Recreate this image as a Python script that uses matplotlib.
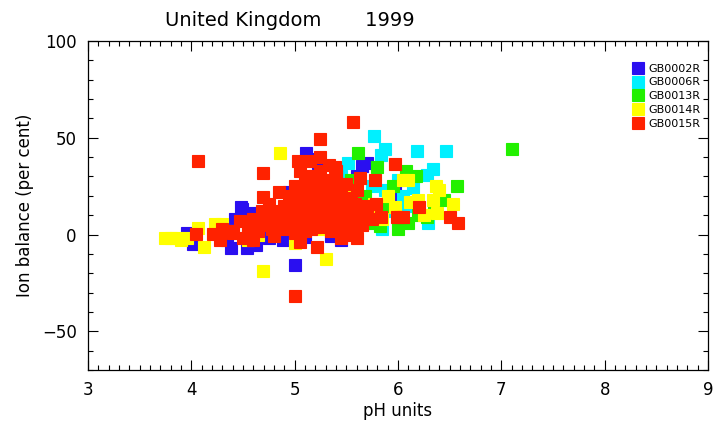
import numpy as np
import matplotlib.pyplot as plt
from matplotlib.ticker import MultipleLocator

# %% data (pH, ion balance %)
sites = ['GB0002R', 'GB0006R', 'GB0013R', 'GB0014R', 'GB0015R']
colors = ['#2a0ff0', '#00f0ff', '#22f000', '#ffff00', '#ff2200']

ph_0002 = [3.96, 4.02, 4.38, 4.54, 4.63, 4.42, 4.49, 4.89, 5.0, 5.1, 5.11, 5.22, 5.23,
           5.7, 5.65, 5.97, 5.96, 4.7, 4.85, 4.95, 5.05, 5.15, 5.3, 5.4, 5.5, 5.6, 5.8,
           5.9, 4.25, 4.55, 4.75, 5.35, 5.45, 4.6, 4.35, 4.48]
ib_0002 = [1, -4.7, -6.8, -6.8, -5.2, 8, 13.4, -3, -15.5, -1.5, 42, 39, 37,
           37, 35.6, 23, 20, 5, 10, 22, 15, 28, 8, 3, 20, 30, 12,
           18, 2, 0, -2, -1, -3, 11, -3, 14]

ph_0006 = [5.77, 5.87, 5.84, 6.18, 6.46, 5.52, 6.34, 6.28, 6.15, 5.87, 6.29, 5.6, 5.45,
           5.75, 5.95, 6.05, 5.3, 5.5, 5.65, 6.1, 5.2, 5.4, 5.85, 6.0, 5.55]
ib_0006 = [51, 44, 41, 43, 43, 37, 34, 31, 24, 23, 6, 18, 30,
           25, 12, 20, 5, 2, 8, 15, 12, 20, 3, 28, 12]

ph_0013 = [7.1, 5.61, 5.8, 6.08, 6.17, 6.57, 6.45, 6.28, 6.0, 6.19, 5.83, 5.61, 5.68,
           5.75, 5.9, 5.5, 5.3, 5.2, 5.7, 6.35, 5.4, 5.95, 5.55, 6.1, 5.1]
ib_0013 = [44, 42, 35, 33, 30, 25, 18, 9, 3, 10, 4.6, 17.6, 20,
           6, 14, 10, 22, 15, 12, 12, 4, 25, 28, 6, 8]

ph_0014 = [3.75, 3.8, 3.85, 3.9, 3.96, 4.06, 4.12, 4.23, 4.3, 4.55, 4.69, 4.86, 5.0,
           5.3, 5.77, 5.73, 6.05, 6.1, 6.37, 6.4, 6.53, 6.34, 6.38, 6.12, 5.97, 6.19,
           4.4, 4.8, 5.05, 5.45, 5.6, 5.85, 5.9, 5.25, 4.65, 6.25, 5.5, 4.95]
ib_0014 = [-2, -2, -2, -3, -2, 3.6, -6.5, 5.7, 5.7, -3, -19, 42, -4.6,
           -12.5, 16, 14, 28, 28, 25, 23, 16, 18, 11, 17, 14, 18,
           2, 8, 20, 12, 5, 8, 20, 3, 0, 10, 25, 6]

ph_0015 = [4.06, 4.69, 4.69, 5.0, 5.56, 5.25, 5.03, 5.39, 5.05, 5.97, 5.63, 5.78, 5.79,
           5.84, 6.02, 5.58, 5.22, 4.05, 4.28, 4.21, 4.37, 4.47, 6.2, 6.05, 5.99, 6.5,
           6.58, 4.55, 4.6, 4.65, 4.7, 4.75, 4.8, 4.8, 4.85, 4.9, 4.9, 4.95, 4.95, 5.0,
           5.0, 5.0, 5.05, 5.05, 5.1, 5.1, 5.1, 5.15, 5.15, 5.2, 5.2, 5.2, 5.25, 5.25,
           5.3, 5.3, 5.3, 5.35, 5.35, 5.35, 5.4, 5.4, 5.4, 5.45, 5.45, 5.5, 5.5, 5.5,
           5.55, 5.55, 5.6, 5.6, 5.65, 5.7, 5.75, 5.15, 5.25, 5.33, 4.5, 4.4, 4.3, 4.6,
           4.85, 5.45, 5.6, 5.05, 4.75, 5.28, 5.18, 4.98,
           4.62, 4.72, 4.82, 4.92, 5.02, 5.12, 5.22, 5.32, 5.42, 5.52, 5.62, 4.88,
           4.98, 5.08, 5.18, 5.28, 5.38, 5.48, 5.12, 5.22, 5.32, 5.42, 5.02, 5.12,
           5.2, 5.3, 5.4, 4.78, 4.68, 5.58, 5.68, 5.08, 5.16, 5.26, 5.36, 5.46]
ib_0015 = [38, 31.6, 19.6, -32, 58, 49.5, 38, 35, 33, 36.6, 29, 28, 16,
           9, 9, 2, -6.5, 0.5, -3, 0.5, 2, 7, 14, 9, 9, 9,
           6, 4, 8, 2, 10, 5, 12, -1, 6, 15, 3, 9, 20, 11,
           25, 1, 6, 17, 13, 30, 2, 8, 22, 18, 4, 27, 12, 33,
           7, 20, 28, 14, 2, 24, 10, 18, 30, 5, 22, 14, 26, 0,
           8, 19, 12, 23, 5, 15, 8, 38, 40, 36, -2, 1, 3, -3,
           22, -2, -2, -4, 16, 15, 10, 16,
           5, 7, 9, 12, 14, 11, 9, 11, 13, 10, 9, 4,
           6, 8, 15, 18, 16, 18, 20, 23, 21, 26, 20, 24,
           30, 27, 33, 3, 12, 16, 12, 5, 3, 4, 6, 4]

series = [(ph_0002, ib_0002), (ph_0006, ib_0006), (ph_0013, ib_0013),
          (ph_0014, ib_0014), (ph_0015, ib_0015)]

# %% plot
fig = plt.figure(figsize=(7.13, 4.21), dpi=100)
ax = fig.add_axes([0.1234, 0.1211, 0.8696, 0.7815])

for (ph, ib), name, c in zip(series, sites, colors):
    ax.plot(ph, ib, 's', color=c, markersize=8, markeredgewidth=0.8,
            markeredgecolor=c, label=name, linestyle='none')

ax.set_xlim(3, 9)
ax.set_ylim(-70, 100)
ax.xaxis.set_major_locator(MultipleLocator(1))
ax.xaxis.set_minor_locator(MultipleLocator(0.1))
ax.yaxis.set_major_locator(MultipleLocator(50))
ax.yaxis.set_minor_locator(MultipleLocator(10))
ax.tick_params(which='both', direction='in', top=True, right=True,
               labelsize=12, width=0.8)
ax.tick_params(which='major', length=7, pad=8)
ax.tick_params(which='minor', length=3.5)
for s in ax.spines.values():
    s.set_linewidth(0.9)

ax.set_xlabel('pH units', fontsize=12, labelpad=2)
ax.set_ylabel('Ion balance (per cent)', fontsize=12, labelpad=6)
fig.text(0.407, 0.952, 'United Kingdom       1999', fontsize=14,
         ha='center', va='center')

ax.legend(loc='upper right', bbox_to_anchor=(0.995, 0.945), frameon=False,
          fontsize=8, handletextpad=0.3, labelspacing=0.35, markerscale=1.0,
          handlelength=1.2, borderaxespad=0)

fig.savefig('out.png', dpi=100)
